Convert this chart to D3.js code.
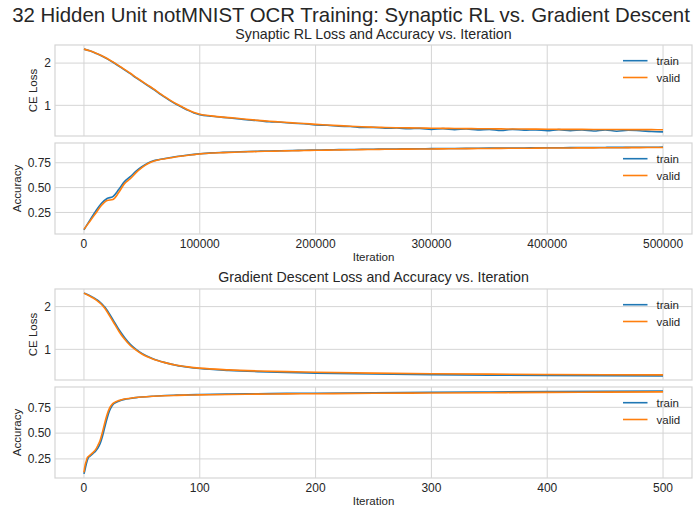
<!DOCTYPE html>
<html>
<head>
<meta charset="utf-8">
<script src="https://cdn.jsdelivr.net/npm/d3@7/dist/d3.min.js"></script>
<style>
  html, body { margin: 0; padding: 0; background: #ffffff; }
  svg { display: block; font-family: "Liberation Sans", Arial, sans-serif; }
</style>
</head>
<body>
<svg id="chart" width="696" height="512"></svg>
<script>
// ---------------- DATA ----------------
const mainTitle = "32 Hidden Unit notMNIST OCR Training: Synaptic RL vs. Gradient Descent";
const srlTitle = "Synaptic RL Loss and Accuracy vs. Iteration";
const gdTitle = "Gradient Descent Loss and Accuracy vs. Iteration";
const seriesNames = ["train", "valid"];

// Synaptic RL: iteration (in thousands)
const srlIterK = [0,5,10,15,20,25,30,35,40,45,50,55,60,65,70,75,80,85,90,95,100,
  110,120,130,140,150,160,170,180,190,200,210,220,230,240,250,260,270,280,290,300,
  310,320,330,340,350,360,370,380,390,400,410,420,430,440,450,460,470,480,490,500];
const srlLossValid = [2.33,2.29,2.24,2.18,2.11,2.03,1.94,1.85,1.76,1.66,1.57,1.48,1.39,1.29,1.20,1.11,1.03,0.96,0.89,0.83,0.79,
  0.75,0.72,0.70,0.67,0.645,0.625,0.605,0.585,0.57,0.55,0.535,0.52,0.505,0.492,0.482,0.475,0.47,0.466,0.462,0.458,
  0.455,0.452,0.449,0.446,0.444,0.442,0.44,0.438,0.436,0.434,0.432,0.431,0.43,0.429,0.428,0.427,0.426,0.425,0.424,0.423];
const srlLossTrain = [2.33,2.29,2.235,2.175,2.10,2.02,1.93,1.84,1.75,1.65,1.56,1.47,1.38,1.28,1.19,1.10,1.02,0.95,0.88,0.82,0.78,
  0.74,0.715,0.69,0.66,0.64,0.61,0.60,0.575,0.565,0.535,0.53,0.505,0.50,0.475,0.478,0.458,0.465,0.445,0.455,0.432,
  0.448,0.425,0.44,0.418,0.432,0.405,0.432,0.412,0.42,0.398,0.425,0.402,0.415,0.392,0.418,0.388,0.41,0.40,0.38,0.372];
const srlAccValid = [0.08,0.16,0.24,0.32,0.37,0.38,0.45,0.54,0.59,0.65,0.70,0.74,0.765,0.78,0.79,0.80,0.81,0.818,0.826,0.832,0.838,
  0.848,0.852,0.856,0.86,0.863,0.866,0.868,0.871,0.873,0.875,0.877,0.879,0.88,0.882,0.883,0.885,0.886,0.887,0.888,0.889,
  0.89,0.891,0.892,0.893,0.894,0.895,0.896,0.896,0.897,0.898,0.898,0.899,0.90,0.90,0.901,0.901,0.902,0.902,0.903,0.903];
const srlAccTrain = [0.075,0.17,0.26,0.34,0.39,0.41,0.48,0.56,0.61,0.665,0.71,0.745,0.77,0.782,0.793,0.803,0.812,0.82,0.828,0.834,0.84,
  0.849,0.854,0.858,0.862,0.866,0.868,0.871,0.873,0.876,0.878,0.879,0.882,0.883,0.885,0.886,0.888,0.889,0.89,0.891,0.892,
  0.893,0.894,0.895,0.896,0.897,0.898,0.899,0.899,0.90,0.901,0.901,0.902,0.903,0.903,0.904,0.905,0.905,0.906,0.906,0.907];

// Gradient Descent: iteration
const gdIter = [0,1,2,3,4,5,6,8,10,12,14,16,18,20,22,24,26,28,30,35,40,45,50,60,70,80,90,100,125,150,175,200,250,300,350,400,450,500];
const gdLossValid = [2.315,2.30,2.29,2.275,2.26,2.245,2.23,2.20,2.165,2.125,2.08,2.025,1.96,1.88,1.79,1.70,1.61,1.52,1.43,1.24,1.09,0.98,0.89,0.77,0.69,0.63,0.59,0.56,0.52,0.495,0.478,0.465,0.445,0.43,0.42,0.413,0.407,0.402];
const gdLossTrain = [2.315,2.305,2.295,2.283,2.27,2.257,2.243,2.215,2.18,2.145,2.10,2.05,1.99,1.915,1.83,1.74,1.65,1.56,1.47,1.28,1.12,1.00,0.905,0.775,0.69,0.625,0.583,0.552,0.508,0.48,0.46,0.445,0.423,0.408,0.398,0.391,0.385,0.38];
const gdAccValid = [0.12,0.19,0.23,0.265,0.275,0.285,0.295,0.315,0.34,0.38,0.43,0.51,0.60,0.68,0.74,0.775,0.795,0.807,0.815,0.83,0.838,0.845,0.85,0.857,0.862,0.866,0.869,0.871,0.875,0.878,0.88,0.882,0.886,0.889,0.892,0.895,0.897,0.90];
const gdAccTrain = [0.105,0.15,0.20,0.24,0.265,0.275,0.285,0.305,0.325,0.355,0.40,0.47,0.56,0.645,0.715,0.76,0.787,0.80,0.81,0.827,0.836,0.844,0.85,0.858,0.864,0.868,0.871,0.874,0.878,0.882,0.885,0.887,0.892,0.896,0.899,0.902,0.905,0.907];

// Ticks
const srlXTicks = [0,100000,200000,300000,400000,500000];
const gdXTicks = [0,100,200,300,400,500];
const lossYTicks = [1,2];
const accYTicks = [0.25,0.5,0.75];
const lossYLabels = ["1","2"];
const accYLabels = ["0.25","0.50","0.75"];

// ---------------- DRAW ----------------
const svg = d3.select("#chart");
const textColor = "#262626";
const gridColor = "#d5d5d5";
const colors = ["#1f77b4", "#ff7f0e"];
const xL = 55, xR = 692;

svg.append("text").attr("x", 351).attr("y", 22).attr("text-anchor", "middle")
  .attr("font-size", 20.4).attr("fill", textColor).text(mainTitle);
svg.append("text").attr("x", 373.5).attr("y", 39).attr("text-anchor", "middle")
  .attr("font-size", 14.2).attr("fill", textColor).text(srlTitle);
svg.append("text").attr("x", 373.5).attr("y", 282).attr("text-anchor", "middle")
  .attr("font-size", 14.2).attr("fill", textColor).text(gdTitle);

function padDomain(arrs) {
  const all = arrs.flat();
  const lo = d3.min(all), hi = d3.max(all);
  const m = (hi - lo) * 0.05;
  return [lo - m, hi + m];
}

function panel(cfg) {
  const g = svg.append("g");
  const x = d3.scaleLinear().domain(padDomain([cfg.xs])).range([xL, xR]);
  const y = d3.scaleLinear().domain(padDomain([cfg.train, cfg.valid])).range([cfg.bottom, cfg.top]);

  // grid
  g.selectAll(".vg").data(cfg.xTicks).enter().append("line")
    .attr("x1", d => x(d)).attr("x2", d => x(d))
    .attr("y1", cfg.top).attr("y2", cfg.bottom)
    .attr("stroke", gridColor).attr("stroke-width", 1);
  g.selectAll(".hg").data(cfg.yTicks).enter().append("line")
    .attr("x1", xL).attr("x2", xR)
    .attr("y1", d => y(d)).attr("y2", d => y(d))
    .attr("stroke", gridColor).attr("stroke-width", 1);

  // frame
  g.append("rect").attr("x", xL).attr("y", cfg.top)
    .attr("width", xR - xL).attr("height", cfg.bottom - cfg.top)
    .attr("fill", "none").attr("stroke", gridColor).attr("stroke-width", 1.2);

  // y tick labels
  g.selectAll(".yl").data(cfg.yTicks).enter().append("text")
    .attr("x", 51).attr("y", d => y(d)).attr("dy", "0.35em")
    .attr("text-anchor", "end").attr("font-size", 12).attr("fill", textColor)
    .text((d, i) => cfg.yLabels[i]);

  // y label
  g.append("text")
    .attr("transform", `translate(${cfg.ylabelX},${(cfg.top + cfg.bottom) / 2}) rotate(-90)`)
    .attr("dy", "0.35em").attr("text-anchor", "middle")
    .attr("font-size", 11.5).attr("fill", textColor).text(cfg.ylabel);

  if (cfg.showX) {
    g.selectAll(".xl").data(cfg.xTicks).enter().append("text")
      .attr("x", d => x(d)).attr("y", cfg.bottom + 13.5)
      .attr("text-anchor", "middle").attr("font-size", 12).attr("fill", textColor)
      .text((d, i) => cfg.xLabels[i]);
    g.append("text").attr("x", (xL + xR) / 2).attr("y", cfg.bottom + 27)
      .attr("text-anchor", "middle").attr("font-size", 11.5).attr("fill", textColor)
      .text("Iteration");
  }

  // lines
  const line = d3.line().x((d, i) => x(cfg.xs[i])).y(d => y(d)).curve(d3.curveMonotoneX);
  [cfg.train, cfg.valid].forEach((s, k) => {
    g.append("path").datum(s).attr("d", line)
      .attr("fill", "none").attr("stroke", colors[k]).attr("stroke-width", 1.6)
      .attr("stroke-linejoin", "round");
  });

  // legend
  seriesNames.forEach((nm, k) => {
    const ly = cfg.top + 15.7 + k * 16.8;
    g.append("line").attr("x1", 623).attr("x2", 647.5).attr("y1", ly).attr("y2", ly)
      .attr("stroke", colors[k]).attr("stroke-width", 1.6);
    g.append("text").attr("x", 656.5).attr("y", ly).attr("dy", "0.35em")
      .attr("font-size", 11.5).attr("fill", textColor).text(nm);
  });
}

const srlXs = srlIterK.map(v => v * 1000);
const srlXLabels = srlXTicks.map(String);
const gdXLabels = gdXTicks.map(String);

panel({top: 45, bottom: 136, xs: srlXs, train: srlLossTrain, valid: srlLossValid,
  xTicks: srlXTicks, xLabels: srlXLabels, yTicks: lossYTicks, yLabels: lossYLabels,
  ylabel: "CE Loss", ylabelX: 33, showX: false});
panel({top: 143, bottom: 234, xs: srlXs, train: srlAccTrain, valid: srlAccValid,
  xTicks: srlXTicks, xLabels: srlXLabels, yTicks: accYTicks, yLabels: accYLabels,
  ylabel: "Accuracy", ylabelX: 17, showX: true});
panel({top: 289, bottom: 380, xs: gdIter, train: gdLossTrain, valid: gdLossValid,
  xTicks: gdXTicks, xLabels: gdXLabels, yTicks: lossYTicks, yLabels: lossYLabels,
  ylabel: "CE Loss", ylabelX: 33, showX: false});
panel({top: 387, bottom: 478, xs: gdIter, train: gdAccTrain, valid: gdAccValid,
  xTicks: gdXTicks, xLabels: gdXLabels, yTicks: accYTicks, yLabels: accYLabels,
  ylabel: "Accuracy", ylabelX: 17, showX: true});
</script>
</body>
</html>
